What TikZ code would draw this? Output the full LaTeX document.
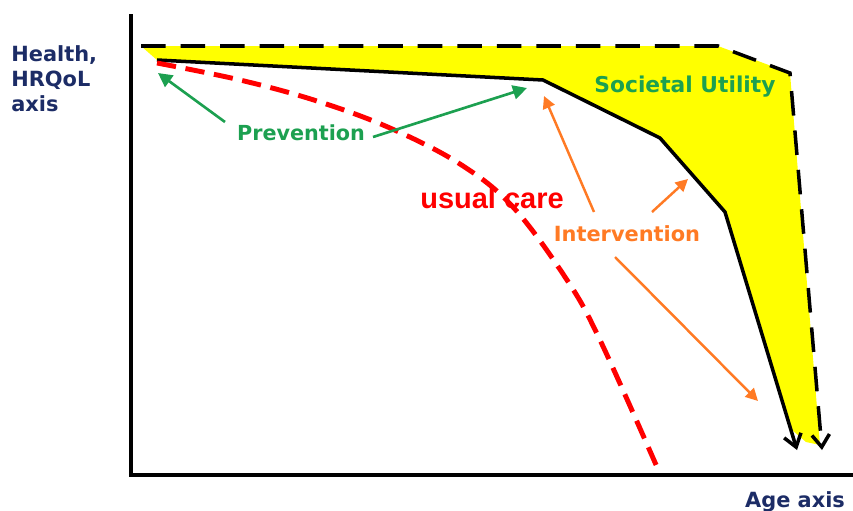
\documentclass[tikz,border=0pt]{standalone}
\usepackage{fontspec}
\setmainfont{DejaVu Sans}
\newfontfamily\carefont{Liberation Sans}
\usetikzlibrary{positioning,arrows.meta}
\definecolor{navytxt}{RGB}{28,44,102}
\definecolor{prevgreen}{RGB}{28,160,80}
\definecolor{intorange}{RGB}{255,122,36}
\definecolor{carered}{RGB}{255,0,0}
\definecolor{utilyellow}{RGB}{255,255,0}
\tikzset{
  axisline/.style  = {line width=2.2pt},
  boundline/.style = {line width=2pt, -{Straight Barb[length=7pt,width=10pt]}},
  topline/.style   = {boundline, dash pattern=on 14pt off 8.5pt},
  careline/.style  = {line width=2.8pt, draw=carered, dash pattern=on 11pt off 5.5pt},
  prevarrow/.style = {draw=prevgreen, line width=1.5pt, -{Triangle[length=8pt,width=8pt]}},
  intarrow/.style  = {draw=intorange, line width=1.4pt, -{Triangle[length=7pt,width=7pt]}},
  axlabel/.style   = {inner sep=0pt, text=navytxt, font=\bfseries\fontsize{11.9}{14.2}\selectfont},
  prevlabel/.style = {inner sep=0pt, text=prevgreen, font=\bfseries\fontsize{11.8}{14}\selectfont},
  intlabel/.style  = {inner sep=0pt, text=intorange, font=\bfseries\fontsize{11.9}{14}\selectfont},
  carelabel/.style = {inner sep=0pt, text=carered, font=\carefont\bfseries\fontsize{16.5}{18}\selectfont},
}

\begin{document}
\begin{tikzpicture}[x=0.02cm,y=-0.02cm]
    \useasboundingbox (0,0) rectangle (853,511);

    % best possible health (dashed) and achieved health (solid)
    \coordinate (t0) at (141,46);
    \coordinate (t1) at (718,46);
    \coordinate (t2) at (790,73);
    \coordinate (t3) at (822,450);
    \coordinate (s0) at (157,60);
    \coordinate (s1) at (543,80);
    \coordinate (s2) at (660,138);
    \coordinate (s3) at (725,212);
    \coordinate (s4) at (797,450);

    % gap between both curves
    \fill[utilyellow] (t0) -- (t1) -- (t2) -- (820,445) -- (806,442)
      -- (792,430) -- (s3) -- (s2) -- (s1) -- (s0) -- cycle;

    \draw[topline]   (t0) -- (t1) -- (t2) -- (t3);
    \draw[boundline] (s0) -- (s1) -- (s2) -- (s3) -- (s4);

    % usual care
    \draw[careline] plot[smooth, tension=0.6] coordinates
      {(157,63) (240,80) (317,101) (390,128) (460,164) (513,207) (567,280) (600,340) (657,467)};

    % axes
    \draw[axisline] (131,14) -- (131,475) -- (853,475);

    % labels
    \node[axlabel, anchor=north west, align=left] (hlab) at (11,45)
      {Health,\\HRQoL\\axis};
    \node[axlabel] (alab) at (795,502) {Age axis};
    \node[prevlabel] (prev) at (301,133) {Prevention};
    \node[prevlabel, font=\bfseries\fontsize{12.4}{14}\selectfont] (util) at (685,87) {Societal Utility};
    \node[carelabel] (care) at (492,198) {usual care};
    \node[intlabel]  (inter) at (627,234) {Intervention};

    % prevention arrows
    \coordinate (pvL) at (225,122);
    \coordinate (pvLtip) at (158,73);
    \coordinate (pvR) at (373,137);
    \coordinate (pvRtip) at (527,88);
    \draw[prevarrow] (pvL) -- (pvLtip);
    \draw[prevarrow] (pvR) -- (pvRtip);

    % intervention arrows
    \coordinate (ivA) at (594,212);
    \coordinate (ivAtip) at (544,96);
    \coordinate (ivB) at (652,212);
    \coordinate (ivBtip) at (688,179);
    \coordinate (ivC) at (615,257);
    \coordinate (ivCtip) at (758,401);
    \draw[intarrow] (ivA) -- (ivAtip);
    \draw[intarrow] (ivB) -- (ivBtip);
    \draw[intarrow] (ivC) -- (ivCtip);
\end{tikzpicture}
\end{document}
